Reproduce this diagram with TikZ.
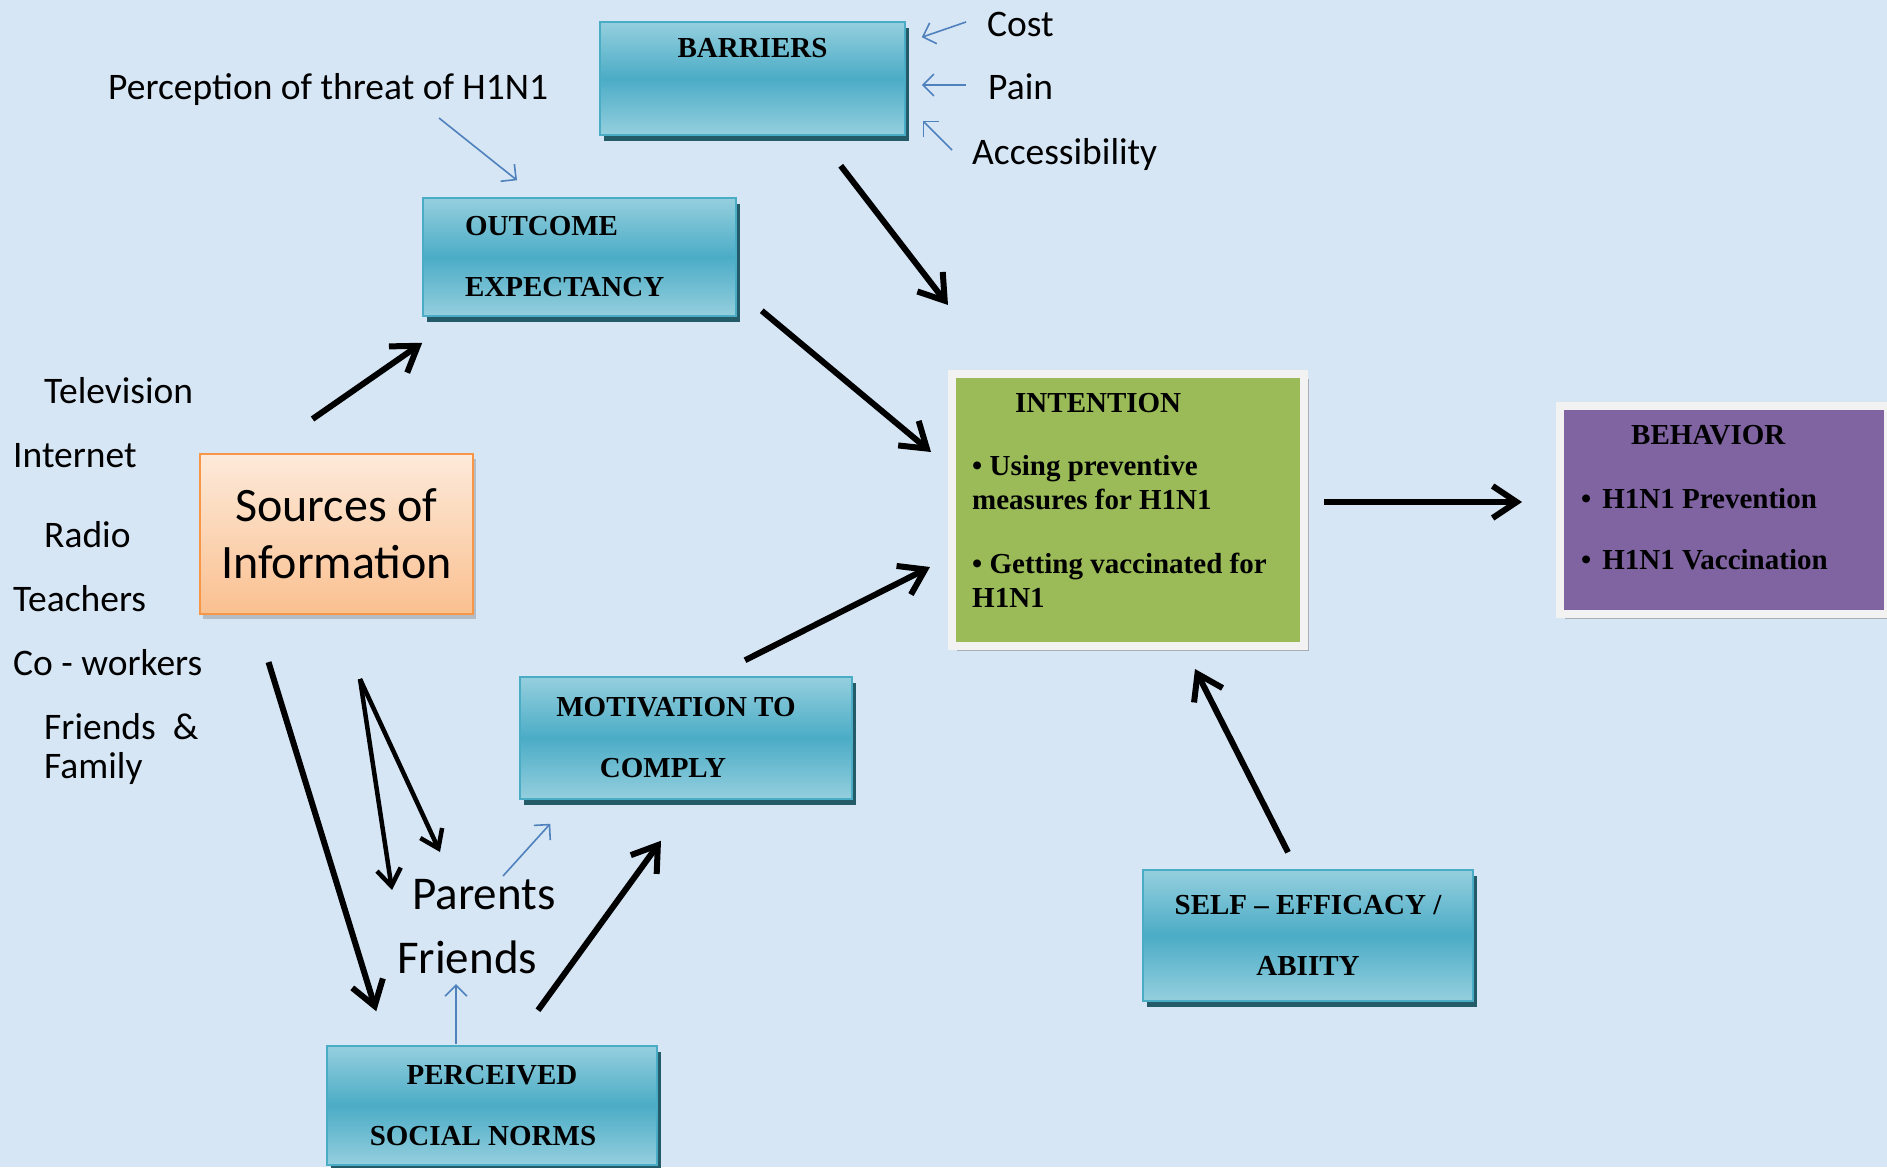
\documentclass[tikz,border=0pt]{standalone}
\usepackage{fontspec}
\setmainfont{Liberation Serif}
\newfontfamily\calibri{Carlito}
\usetikzlibrary{arrows.meta,positioning,shadows}

\definecolor{bgblue}{HTML}{D7E6F5}
\definecolor{tealmid}{HTML}{4BACC6}
\definecolor{teallight}{HTML}{95CFDE}
\definecolor{tealdark}{HTML}{235B69}
\definecolor{orangeline}{HTML}{F79646}
\definecolor{orangetop}{HTML}{FDEADA}
\definecolor{orangebot}{HTML}{FAC090}
\definecolor{intgreen}{HTML}{9BBB59}
\definecolor{behpurple}{HTML}{8064A2}
\definecolor{framegrey}{HTML}{F2F2F2}
\definecolor{arrowblue}{HTML}{4F81BD}

\begin{document}
\begin{tikzpicture}[x=1pt,y=-1pt,
    box/.style={draw=tealmid,line width=1.5pt,top color=teallight,bottom color=teallight,middle color=tealmid,
      drop shadow={shadow xshift=4pt,shadow yshift=-6pt,fill=tealdark,opacity=1},
      align=center,inner sep=0pt,font=\fontsize{29}{61}\selectfont\bfseries},
    framed/.style={draw=framegrey,line width=8pt,
      drop shadow={shadow xshift=5pt,shadow yshift=-5pt,fill=gray,opacity=.55}},
    boxtext/.style={anchor=north west,inner sep=0pt,align=left,font=\fontsize{29}{34}\selectfont\bfseries},
    lbl/.style={anchor=base west,inner sep=0pt,font=\calibri\fontsize{37.5}{40}\selectfont},
    biglbl/.style={lbl,font=\calibri\fontsize{47}{50}\selectfont},
    bigarrow/.style={line width=6pt,-{Straight Barb[length=24pt,width=32pt]}},
    midarrow/.style={line width=4.5pt,-{Straight Barb[length=17pt,width=24pt]}},
    bluearrow/.style={draw=arrowblue,line width=1.6pt,-{Straight Barb[length=11pt,width=22pt]}}]
  \useasboundingbox (0,0) rectangle (1887,1167);
  \fill[bgblue] (0,0) rectangle (1887,1167);

  \node[box,minimum width=305pt,minimum height=113pt] (barriers) at (752.5,78.5) {BARRIERS\\~};
  \node[box,minimum width=313pt,minimum height=118pt,text width=229pt,inner xsep=42pt,align=left] (outcome) at (579.5,257) {OUTCOME\\EXPECTANCY};
  \node[box,minimum width=332pt,minimum height=122pt] (motivation) at (686,738) {MOTIVATION TO\hspace*{20pt}\\COMPLY\hspace*{46pt}};
  \node[box,minimum width=330pt,minimum height=119pt] (norms) at (492,1105.5) {PERCEIVED\\SOCIAL NORMS\hspace*{18pt}};
  \node[box,minimum width=330pt,minimum height=131pt] (efficacy) at (1308,935.5) {SELF – EFFICACY /\\ABIITY};

  \node[draw=orangeline,line width=2pt,top color=orangetop,bottom color=orangebot,
    drop shadow={shadow xshift=3pt,shadow yshift=-5pt,fill=gray,opacity=.4},
    minimum width=273pt,minimum height=160pt,inner sep=0pt,align=center,
    font=\calibri\fontsize{48}{57}\selectfont] (sources) at (336.5,534) {Sources of\\Information};

  \node[framed,fill=intgreen,minimum width=352pt,minimum height=272pt] (intention) at (1128,510) {};
  \node[boxtext] (intentiontext) at ([shift={(24,23)}]intention.north west)
    {\hspace*{43pt}INTENTION\\[29pt]• Using preventive\\measures for H1N1\\[30pt]• Getting vaccinated for\\H1N1};

  \node[framed,fill=behpurple,minimum width=328pt,minimum height=208pt] (behavior) at (1724,510) {};
  \node[boxtext] (behaviortext) at ([shift={(25,23)}]behavior.north west)
    {\hspace*{50pt}BEHAVIOR\\[30pt]•\hspace{11pt}H1N1 Prevention\\[27pt]•\hspace{11pt}H1N1 Vaccination};

  \node[lbl] (perception) at (108,99) {Perception of threat of H1N1};
  \node[lbl] (cost) at (987,36) {Cost};
  \node[lbl] (pain) at (988,99) {Pain};
  \node[lbl] (access) at (972,164) {Accessibility};

  \node[lbl] (tv) at (44,403) {Television};
  \node[lbl] (internet) at (13,467) {Internet};
  \node[lbl] (radio) at (44,547) {Radio};
  \node[lbl] (teachers) at (13,611) {Teachers};
  \node[lbl] (coworkers) at (13,675) {Co - workers};
  \node[lbl] (friendsfam) at (44,739) {Friends\ \ \&};
  \node[lbl] (family) at (44,778) {Family};

  \node[biglbl] (parents) at (412,909) {Parents};
  \node[biglbl] (friends) at (397,973) {Friends};

  \draw[bigarrow] ([shift={(-24,-34)}]sources.north) -- ([shift={(0,26)}]outcome.south west);
  \draw[bigarrow] ([shift={(-65,30)}]barriers.south east) -- ([shift={(0,-65)}]intention.north west);
  \draw[bigarrow] ([shift={(25,-6)}]outcome.south east) -- ([shift={(-17,-58)}]intention.west);
  \draw[bigarrow] ([shift={(59,-16)}]motivation.north) -- ([shift={(-18,57)}]intention.west);
  \draw[bigarrow] ([shift={(16,-8)}]intention.east) -- ([shift={(-34,-8)}]behavior.west);
  \draw[bigarrow] ([shift={(-20,-17)}]efficacy.north) -- ([shift={(67,19)}]intention.south);
  \draw[bigarrow] ([shift={(46,-35)}]norms.north) -- ([shift={(-25,41)}]motivation.south);
  \draw[bigarrow] ([shift={(66,0)}]coworkers.east) -- ([shift={(50,-34)}]norms.north west);
  \draw[midarrow] ([shift={(23.5,64)}]sources.south) -- ([shift={(-20,-19)}]parents.base west);
  \draw[midarrow] ([shift={(23.5,64)}]sources.south) -- ([shift={(28,-57)}]parents.base west);

  \draw[bluearrow] ([shift={(331,19)}]perception.base west) -- ([shift={(-62.5,-17)}]outcome.north);
  \draw[bluearrow] ([shift={(-21,-14)}]cost.base west) -- ([shift={(16,16)}]barriers.north east);
  \draw[bluearrow] ([shift={(-22,-14)}]pain.base west) -- ([shift={(16,6.5)}]barriers.east);
  \draw[bluearrow] ([shift={(-20,-14)}]access.base west) -- ([shift={(17,-15)}]barriers.south east);
  \draw[bluearrow] ([shift={(91,-33)}]parents.base west) -- ([shift={(31,24)}]motivation.south west);
  \draw[bluearrow] ([shift={(-36,-1)}]norms.north) -- ([shift={(59,11)}]friends.base west);
\end{tikzpicture}
\end{document}
